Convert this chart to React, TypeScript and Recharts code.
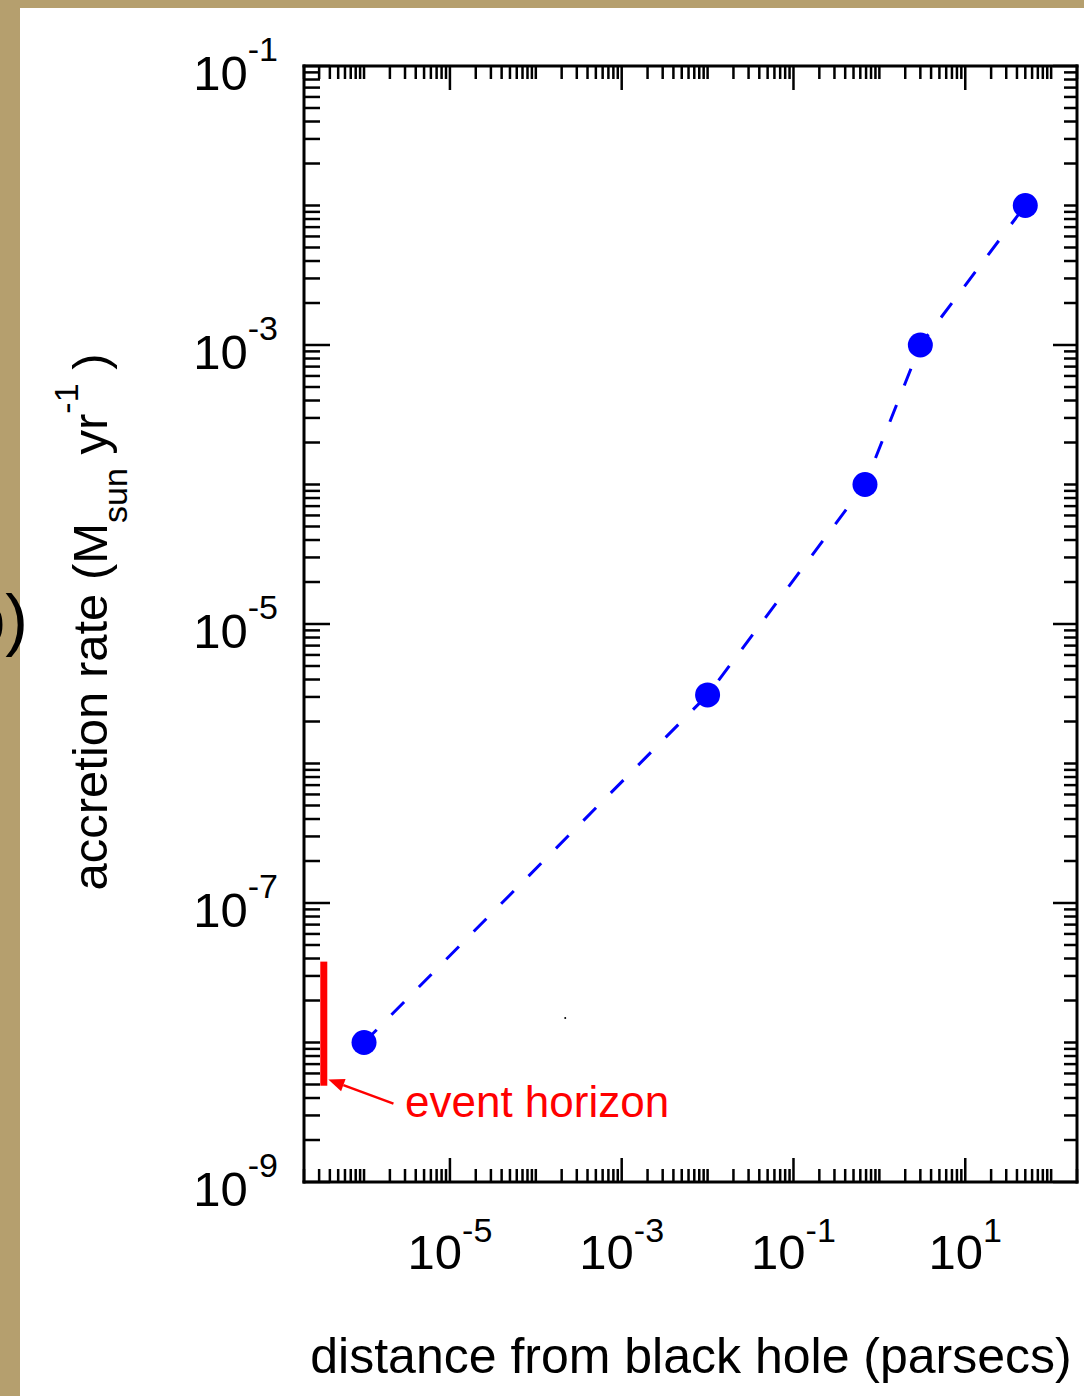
import React from 'react'
import { ComposedChart, Line, XAxis, YAxis, ReferenceLine, ReferenceDot } from 'recharts'

// measured points: distance from the black hole (pc) and accretion rate (Msun/yr)
const distance = [1e-6, 0.01, 0.68, 3, 50]
const accretionRate = [1e-8, 3.1e-6, 1e-4, 1e-3, 1e-2]

const xDomain = [2e-7, 200]
const yDomain = [1e-9, 1e-1]
// only every second decade gets a label and a long tick
const xLabelExponents = [-5, -3, -1, 1]
const yLabelExponents = [-9, -7, -5, -3, -1]

// event horizon marker + arrow annotation (data coordinates)
const horizonDistance = 3.4e-7
const horizonRates = [3.8e-8, 4.9e-9]
const arrowFrom = { x: 2.2e-6, y: 3.65e-9 }
const arrowTo = { x: 3.84e-7, y: 5.42e-9 }
const horizonLabel = { x: 3.0e-6, y: 2.9e-9, text: 'event horizon' }
const strayDot = { x: 2.2e-4, y: 1.5e-8 }

const data = distance.map((d, i) => ({ dist: d, rate: accretionRate[i] }))

const FONT = '"Liberation Sans", Arial, Helvetica, sans-serif'
const BLUE = '#0000ff'
const RED = '#ff0000'

function logTicks([lo, hi]: number[]) {
  const out: number[] = []
  for (let d = Math.floor(Math.log10(lo)); d <= Math.ceil(Math.log10(hi)); d++) {
    for (let m = 1; m <= 9; m++) {
      const v = Number((m * Math.pow(10, d)).toPrecision(3))
      if (v >= lo * 0.999 && v <= hi * 1.001) out.push(v)
    }
  }
  return out
}

const xTicks = logTicks(xDomain)
const yTicks = logTicks(yDomain)

function tickInfo(v: number, labelExps: number[]) {
  const e = Math.log10(v)
  const r = Math.round(e)
  const decade = Math.abs(e - r) < 1e-6
  return { major: decade && labelExps.includes(r), exp: r }
}

const XTick = (props: any) => {
  const { x, y, payload, side } = props
  const { major, exp } = tickInfo(payload.value, xLabelExponents)
  const len = major ? 24 : 13
  const dir = side === 'bottom' ? -1 : 1
  return (
    <g>
      <line x1={x} y1={y} x2={x} y2={y + dir * len} stroke="#000" strokeWidth={2.5} />
      {major && side === 'bottom' && (
        <text x={x} y={y + 87} textAnchor="middle" fontFamily={FONT} fontSize={49} fill="#000">
          10
          <tspan dy={-27} fontSize={34}>
            {exp}
          </tspan>
        </text>
      )}
    </g>
  )
}

const YTick = (props: any) => {
  const { x, y, payload, side } = props
  const { major, exp } = tickInfo(payload.value, yLabelExponents)
  const left = side === 'left'
  const len = left ? (major ? 26 : 16) : major ? 24 : 13
  const dir = left ? 1 : -1
  return (
    <g>
      <line x1={x} y1={y} x2={x + dir * len} y2={y} stroke="#000" strokeWidth={2.5} />
      {major && left && (
        <text x={x - 26} y={y + 24} textAnchor="end" fontFamily={FONT} fontSize={49} fill="#000">
          10
          <tspan dy={-29} fontSize={34}>
            {exp}
          </tspan>
        </text>
      )}
    </g>
  )
}

const ArrowShape = (p: any) => {
  const { x1, y1, x2, y2 } = p
  const ang = Math.atan2(y2 - y1, x2 - x1)
  const L = 16
  const W = 6.5
  const bx = x2 - L * Math.cos(ang)
  const by = y2 - L * Math.sin(ang)
  const pts = [
    [x2, y2],
    [bx + W * Math.sin(ang), by - W * Math.cos(ang)],
    [bx - W * Math.sin(ang), by + W * Math.cos(ang)],
  ]
  return (
    <g>
      <line x1={x1} y1={y1} x2={bx} y2={by} stroke={RED} strokeWidth={2.5} />
      <polygon points={pts.map((q) => q.join(',')).join(' ')} fill={RED} />
    </g>
  )
}

const axisLine = { stroke: '#000', strokeWidth: 3, strokeLinecap: 'square' as const }

export default function App() {
  return (
    <div style={{ position: 'absolute', left: 0, top: 0, width: 1084, height: 1396, background: '#b59f6e', overflow: 'hidden' }}>
      <div style={{ position: 'absolute', left: 20, top: 8, right: 0, bottom: 0, background: '#fff' }} />
      <div style={{ position: 'absolute', left: 0, top: 0 }}>
        <ComposedChart width={1084} height={1396} data={data} margin={{ top: 0, right: 0, bottom: 0, left: 0 }}>
          <XAxis
            dataKey="dist"
            type="number"
            scale="log"
            domain={xDomain}
            allowDataOverflow
            ticks={xTicks}
            interval={0}
            tickSize={0}
            tickMargin={0}
            tickLine={false}
            axisLine={axisLine}
            height={214}
            tick={(p: any) => <XTick {...p} side="bottom" />}
          />
          <XAxis
            xAxisId="top"
            dataKey="dist"
            orientation="top"
            type="number"
            scale="log"
            domain={xDomain}
            allowDataOverflow
            ticks={xTicks}
            interval={0}
            tickSize={0}
            tickMargin={0}
            tickLine={false}
            axisLine={axisLine}
            height={66}
            tick={(p: any) => <XTick {...p} side="top" />}
          />
          <YAxis
            type="number"
            scale="log"
            domain={yDomain}
            allowDataOverflow
            ticks={yTicks}
            interval={0}
            tickSize={0}
            tickMargin={0}
            tickLine={false}
            axisLine={axisLine}
            width={304}
            tick={(p: any) => <YTick {...p} side="left" />}
          />
          <YAxis
            yAxisId="right"
            orientation="right"
            type="number"
            scale="log"
            domain={yDomain}
            allowDataOverflow
            ticks={yTicks}
            interval={0}
            tickSize={0}
            tickMargin={0}
            tickLine={false}
            axisLine={axisLine}
            width={7}
            tick={(p: any) => <YTick {...p} side="right" />}
          />
          <Line
            dataKey="rate"
            type="linear"
            stroke={BLUE}
            strokeWidth={3}
            strokeDasharray="18 21"
            dot={(p: any) => <circle key={`d${p.index}`} cx={p.cx} cy={p.cy} r={12.5} fill={BLUE} />}
            activeDot={false}
            isAnimationActive={false}
          />
          <ReferenceLine
            segment={[
              { x: horizonDistance, y: horizonRates[0] },
              { x: horizonDistance, y: horizonRates[1] },
            ]}
            stroke={RED}
            strokeWidth={7}
          />
          <ReferenceLine segment={[arrowFrom, arrowTo]} shape={ArrowShape} />
          <ReferenceDot
            x={horizonLabel.x}
            y={horizonLabel.y}
            r={0}
            shape={(p: any) => (
              <text x={p.cx} y={p.cy} fontFamily={FONT} fontSize={44} fill={RED}>
                {horizonLabel.text}
              </text>
            )}
          />
          <ReferenceDot x={strayDot.x} y={strayDot.y} r={1} fill="#000" stroke="none" />
        </ComposedChart>
      </div>
      <svg width={1084} height={1396} style={{ position: 'absolute', left: 0, top: 0, pointerEvents: 'none' }}>
        <text x={28} y={643} textAnchor="end" fontFamily={FONT} fontSize={68} fill="#000">
          b)
        </text>
        <text x={691} y={1373} textAnchor="middle" fontFamily={FONT} fontSize={50} fill="#000">
          distance from black hole (parsecs)
        </text>
        <text
          x={107}
          y={622}
          transform="rotate(-90 107 622)"
          textAnchor="middle"
          fontFamily={FONT}
          fontSize={49}
          fill="#000"
        >
          accretion rate (M
          <tspan dy={20} fontSize={34}>
            sun
          </tspan>
          <tspan dy={-20}> yr</tspan>
          <tspan dy={-29} fontSize={34}>
            -1
          </tspan>
          <tspan dy={29}> )</tspan>
        </text>
      </svg>
    </div>
  )
}
